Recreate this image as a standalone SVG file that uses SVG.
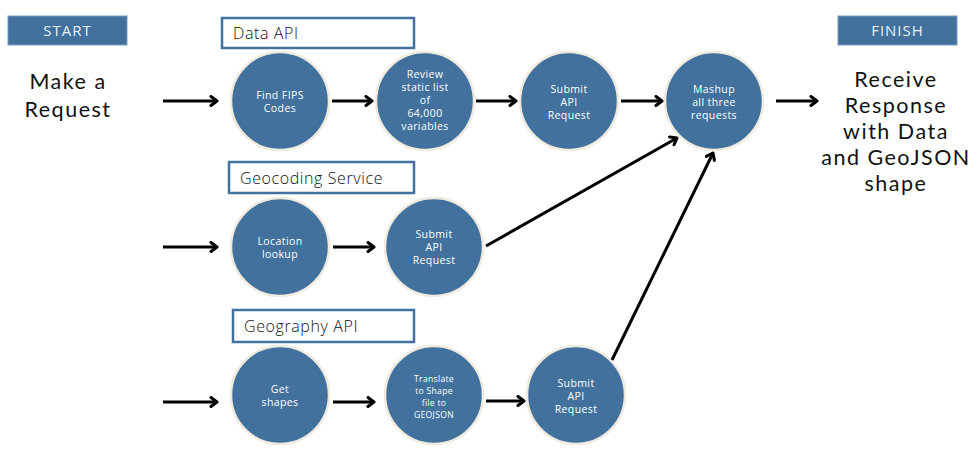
<svg xmlns="http://www.w3.org/2000/svg" width="978" height="459" viewBox="0 0 978 459">
<defs>
<marker id="ah" markerWidth="12" markerHeight="12" refX="9" refY="6" orient="auto" markerUnits="userSpaceOnUse">
<path d="M3,1.5 L9,6 L3,10.5" fill="none" stroke="#000" stroke-width="3" stroke-linecap="round" stroke-linejoin="round"/>
</marker>
</defs>
<style>
.bg{fill:#fff}
.node circle{fill:#41719C;stroke:#EFEBE0;stroke-width:2.5}
.node text{fill:#fff;font-family:"Open Sans","DejaVu Sans",sans-serif;font-size:10.5px;text-anchor:middle;letter-spacing:0.4px}
.node text.s{font-size:8.6px;letter-spacing:0.3px}
.hdr rect{fill:#41719C;stroke:#7A9CC0;stroke-width:1}
.hdr text{fill:#EAF0F7;font-family:"Open Sans","DejaVu Sans",sans-serif;font-size:15px;text-anchor:middle;letter-spacing:1px}
.lbl rect{fill:#fff;stroke:#41719C;stroke-width:2.5}
.lbl text{fill:#111;font-family:"Open Sans","DejaVu Sans",sans-serif;font-size:16px;font-weight:300;letter-spacing:0.6px}
.big text{fill:#111;font-family:Lato,"Open Sans",sans-serif;font-size:21.5px;font-weight:400;text-anchor:middle;letter-spacing:1.5px}
.conn line{stroke:#000;stroke-width:3;marker-end:url(#ah)}
</style>
<rect class="bg" x="0" y="0" width="978" height="459"/>

<g id="start" class="hdr"><rect x="8" y="16" width="119" height="29"/><text x="67.5" y="36">START</text></g>
<g id="finish" class="hdr"><rect x="838" y="16" width="119" height="29"/><text x="897.5" y="36">FINISH</text></g>

<g id="make-request" class="big"><text x="68" y="89">Make a</text><text x="68" y="117">Request</text></g>
<g id="receive-response" class="big"><text x="896" y="87">Receive</text><text x="896" y="113">Response</text><text x="896" y="139">with Data</text><text x="896" y="165">and GeoJSON</text><text x="896" y="191">shape</text></g>

<g id="lbl-data-api" class="lbl"><rect x="222" y="18" width="192" height="30"/><text x="233" y="39">Data API</text></g>
<g id="lbl-geocoding" class="lbl"><rect x="229" y="162" width="185" height="31"/><text x="240" y="184">Geocoding Service</text></g>
<g id="lbl-geography" class="lbl"><rect x="233" y="310" width="181" height="32"/><text x="244" y="332">Geography API</text></g>

<g id="n-fips" class="node"><circle cx="280" cy="101" r="49"/><text x="280" y="99">Find FIPS</text><text x="280" y="112">Codes</text></g>
<g id="n-review" class="node"><circle cx="425" cy="101" r="49"/><text x="425" y="78">Review</text><text x="425" y="91">static list</text><text x="425" y="104">of</text><text x="425" y="117">64,000</text><text x="425" y="130">variables</text></g>
<g id="n-submit1" class="node"><circle cx="569" cy="101" r="49"/><text x="569" y="93">Submit</text><text x="569" y="106">API</text><text x="569" y="119">Request</text></g>
<g id="n-mashup" class="node"><circle cx="714" cy="101" r="49"/><text x="714" y="93">Mashup</text><text x="714" y="106">all three</text><text x="714" y="119">requests</text></g>

<g id="n-location" class="node"><circle cx="280" cy="247" r="49"/><text x="280" y="245">Location</text><text x="280" y="258">lookup</text></g>
<g id="n-submit2" class="node"><circle cx="434" cy="247" r="49"/><text x="434" y="238">Submit</text><text x="434" y="251">API</text><text x="434" y="264">Request</text></g>

<g id="n-shapes" class="node"><circle cx="280" cy="395" r="49"/><text x="280" y="393">Get</text><text x="280" y="406">shapes</text></g>
<g id="n-translate" class="node"><circle cx="434" cy="395" r="49"/><text class="s" x="434" y="382">Translate</text><text class="s" x="434" y="394">to Shape</text><text class="s" x="434" y="406">file to</text><text class="s" x="434" y="418">GEOJSON</text></g>
<g id="n-submit3" class="node"><circle cx="576" cy="395" r="49"/><text x="576" y="387">Submit</text><text x="576" y="400">API</text><text x="576" y="413">Request</text></g>

<g id="connectors" class="conn">
<line x1="163" y1="101" x2="217" y2="101"/>
<line x1="332" y1="101" x2="372" y2="101"/>
<line x1="476" y1="101" x2="516" y2="101"/>
<line x1="621" y1="101" x2="662" y2="101"/>
<line x1="776" y1="101" x2="817" y2="101"/>
<line x1="163" y1="247" x2="217" y2="247"/>
<line x1="333" y1="247" x2="374" y2="247"/>
<line x1="486" y1="246" x2="677" y2="138"/>
<line x1="163" y1="402" x2="217" y2="402"/>
<line x1="333" y1="402" x2="374" y2="402"/>
<line x1="486" y1="401" x2="524" y2="401"/>
<line x1="612" y1="360" x2="713" y2="153"/>
</g>
</svg>
